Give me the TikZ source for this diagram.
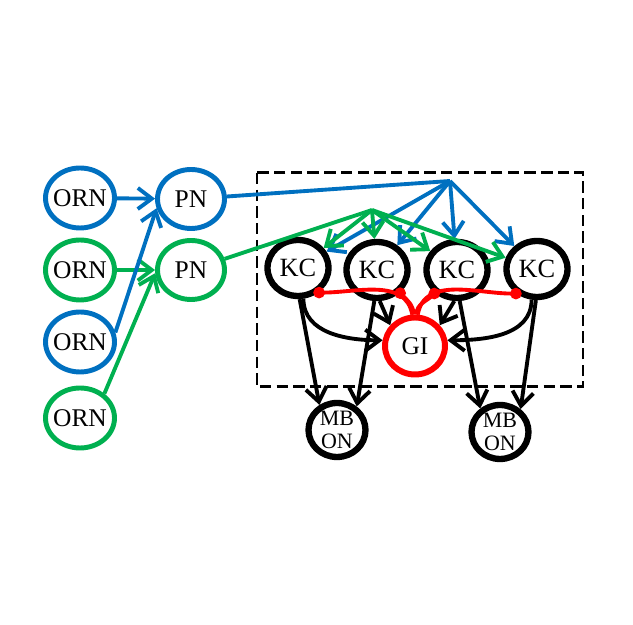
\documentclass[tikz,border=0pt]{standalone}
\usepackage{fontspec}
\setmainfont{Liberation Serif}
\definecolor{ornblue}{RGB}{0, 112, 192}
\definecolor{orngreen}{RGB}{0, 176, 80}
\usetikzlibrary{shapes.geometric, arrows.meta, positioning}

\begin{document}
\begin{tikzpicture}[x=0.02cm, y=0.02cm,
        every node/.style={font=\fontsize{14.5}{16}\selectfont},
        orn/.style={draw, ellipse, line width=2.8pt, inner sep=0pt, inner xsep=-0.12cm, minimum width=1.38cm, minimum height=1.2cm},
        pn/.style={draw, ellipse, line width=2.8pt, inner sep=0pt, inner xsep=-0.12cm, minimum width=1.34cm, minimum height=1.18cm},
        kc/.style={draw, ellipse, line width=3.6pt, inner sep=0pt, inner xsep=-0.14cm, minimum width=1.22cm, minimum height=1.12cm, font=\fontsize{15}{16}\selectfont},
        gi/.style={draw=red, ellipse, line width=3.4pt, inner sep=0pt, minimum width=1.2cm, minimum height=1.14cm},
        mbon/.style={draw, ellipse, line width=3.6pt, inner sep=0pt, inner xsep=-0.1cm, inner ysep=-0.1cm, minimum width=1.14cm, minimum height=1.08cm, align=center, font=\fontsize{12.5}{13}\selectfont},
        arr/.style={line width=2.2pt, -{Straight Barb[length=8pt, width=12pt, line width=2.2pt]}},
        inh/.style={red, line width=2.2pt, -{Circle[length=6.5pt]}, shorten >=-3pt}
    ]
    \useasboundingbox (0,0) rectangle (633,625);

    % Mushroom body frame
    \draw[line width=1.7pt, dash pattern=on 6.5pt off 3pt] (257,452) rectangle (583,238);

    % Receptor neurons
    \node[orn, draw=ornblue] (orn1) at (80,427) {ORN};
    \node[orn, draw=orngreen] (orn2) at (80,355) {ORN};
    \node[orn, draw=ornblue] (orn3) at (80,283) {ORN};
    \node[orn, draw=orngreen] (orn4) at (80,207) {ORN};

    % Projection neurons
    \node[pn, draw=ornblue] (pn1) at (191,426) {PN};
    \node[pn, draw=orngreen] (pn2) at (191,355) {PN};

    % Kenyon cells
    \node[kc] (kc1) at (298,357) {KC};
    \node[kc] (kc2) at (377,355) {KC};
    \node[kc] (kc3) at (457,355) {KC};
    \node[kc] (kc4) at (537,356) {KC};

    % Inhibitory neuron and outputs
    \node[gi] (gi) at (415,279) {GI};
    \node[mbon] (mbon1) at (337,195) {MB\\ON};
    \node[mbon] (mbon2) at (500,193) {MB\\ON};

    % Branch points
    \coordinate (bhub) at (450,444);
    \coordinate (ghub) at (372,415);

    % ORN -> PN
    \draw[arr, ornblue] (orn1) -- (pn1);
    \draw[arr, orngreen] (orn2) -- (pn2);
    \draw[arr, ornblue] (orn3.15) -- (pn1.195);
    \draw[arr, orngreen] (orn4.45) -- (pn2.185);

    % PN -> KC
    \draw[line width=2.2pt, ornblue] (pn1) -- (bhub);
    \draw[line width=2.2pt, orngreen] (pn2) -- (ghub);
    \foreach \k in {kc1, kc2, kc3, kc4} {
        \draw[arr, ornblue] (bhub) -- (\k);
        \draw[arr, orngreen] (ghub) -- (\k);
    }

    % KC -> GI
    \draw[arr] (kc1.-80) to[out=-90, in=180] (gi.170);
    \draw[arr] (kc2.-85) -- (gi.140);
    \draw[arr] (kc3.-95) -- (gi.40);
    \draw[arr] (kc4.-100) to[out=-90, in=0] (gi.10);

    % KC -> MBON
    \draw[arr] (kc1.-87) -- (mbon1.125);
    \draw[arr] (kc2.-95) -- (mbon1.50);
    \draw[arr] (kc3.-85) -- (mbon2.130);
    \draw[arr] (kc4.-92) -- (mbon2.48);

    % GI -> KC feedback
    \draw[inh] (gi.95) to[out=100, in=0] (kc1.-50);
    \draw[inh] (gi.92) to[out=95, in=-45] (kc2.-45);
    \draw[inh] (gi.88) to[out=85, in=-135] (kc3.226);
    \draw[inh] (gi.85) to[out=80, in=180] (kc4.230);
\end{tikzpicture}
\end{document}
